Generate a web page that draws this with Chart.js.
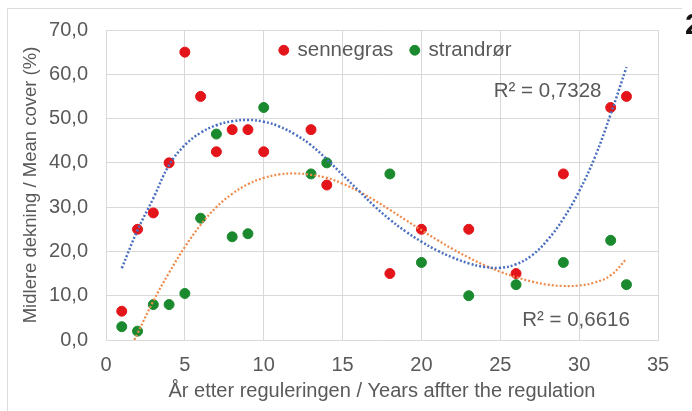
<!DOCTYPE html>
<html>
<head>
<meta charset="utf-8">
<script src="https://cdn.jsdelivr.net/npm/chart.js@4/dist/chart.umd.min.js"></script>
<style>
  html, body { margin: 0; padding: 0; background: #fff; }
  #wrap { width: 692px; height: 411px; }
</style>
</head>
<body>
<div id="wrap"><canvas id="chartDekning" width="692" height="411"></canvas></div>
<script>
// observed cover per year after regulation
const years = [1, 2, 3, 4, 5, 6, 7, 8, 9, 10, 13, 14, 18, 20, 23, 26, 29, 32, 33];
const sennegras = [6.5, 25, 28.7, 40, 65, 55, 42.5, 47.5, 47.5, 42.5, 47.5, 35, 15, 25, 25, 15, 37.5, 52.5, 55];
const strandror = [3, 2, 8, 8, 10.5, 27.5, 46.5, 23.3, 24, 52.5, 37.5, 40, 37.5, 17.5, 10, 12.5, 17.5, 22.5, 12.5];

// trendlines
const blueTrendX = [1, 2, 3, 4, 5, 6, 7, 8, 9, 10, 11, 12, 13, 14, 15, 16, 17, 18, 19, 20, 21, 22, 23, 24, 25, 26, 27, 28, 29, 30, 31, 32, 33];
const blueTrend = [16.2, 24.8, 32, 39.5, 44, 46.8, 48.5, 49.4, 49.7, 49.3, 48.2, 46.4, 44, 40.8, 37.3, 33.8, 30.3, 27.2, 24.5, 22.2, 20.2, 18.6, 17.3, 16.5, 16.3, 17.1, 19.1, 22.6, 27.4, 33.6, 41.3, 51, 61.6];
const orangeTrendX = [1.8, 2, 3, 4, 5, 6, 7, 8, 9, 10, 11, 12, 13, 14, 15, 16, 17, 18, 19, 20, 21, 22, 23, 24, 25, 26, 27, 28, 29, 30, 31, 32, 33];
const orangeTrend = [0, 1.5, 8.8, 15.2, 21, 26, 30, 33, 35.2, 36.6, 37.4, 37.6, 37.3, 36.6, 35.3, 33.6, 31.6, 29.4, 27.1, 24.8, 22.6, 20.5, 18.6, 16.9, 15.4, 14.2, 13.2, 12.5, 12.2, 12.3, 13, 14.6, 18.3];

const r2Labels = ["R\u00b2 = 0,7328", "R\u00b2 = 0,6616"];
const r2Pos = [[28, 56.2], [29.8, 4.5]];

const pts = (xs, ys) => xs.map((x, i) => ({ x: x, y: ys[i] }));
const grey = "#595959";

Chart.defaults.font.family = "'Liberation Sans', Arial, sans-serif";
Chart.defaults.font.size = 20;
Chart.defaults.color = grey;

// frame, R² texts, legend moved into the plot, and the cut "2" from the next figure
const extras = {
  id: "extras",
  afterLayout(chart) {
    const lg = chart.legend;
    const dy = 22 - lg.top;
    lg.top += dy;
    lg.bottom += dy;
    lg.left += 14;
    lg.right += 14;
  },
  beforeDraw(chart) {
    const ctx = chart.ctx;
    ctx.save();
    ctx.strokeStyle = "#dcdcdc";
    ctx.lineWidth = 1;
    ctx.beginPath();
    ctx.moveTo(7.5, 411);
    ctx.lineTo(7.5, 8.5);
    ctx.lineTo(682, 8.5);
    ctx.stroke();
    ctx.restore();
  },
  afterDraw(chart) {
    const ctx = chart.ctx;
    const xs = chart.scales.x, ys = chart.scales.y;
    ctx.save();
    ctx.fillStyle = grey;
    ctx.font = "20.5px 'Liberation Sans', Arial";
    ctx.textAlign = "center";
    ctx.textBaseline = "middle";
    r2Labels.forEach((t, i) => {
      ctx.fillText(t, xs.getPixelForValue(r2Pos[i][0]), ys.getPixelForValue(r2Pos[i][1]));
    });
    ctx.fillStyle = "#111";
    ctx.font = "bold 30px 'Liberation Sans', Arial";
    ctx.textAlign = "left";
    ctx.fillText("2", 685, 26);
    ctx.restore();
  }
};

const ctx = document.getElementById("chartDekning").getContext("2d");
const myChart = new Chart(ctx, {
  type: "scatter",
  data: {
    datasets: [
      {
        label: "sennegras",
        data: pts(years, sennegras),
        backgroundColor: "#e3151a",
        borderColor: "#e3151a",
        pointRadius: 5,
        order: 2,
      },
      {
        label: "strandrør",
        data: pts(years, strandror),
        backgroundColor: "#1b8a2f",
        borderColor: "#1b8a2f",
        pointRadius: 5,
        order: 2,
      },
      {
        type: "line",
        label: "trend sennegras",
        data: pts(blueTrendX, blueTrend),
        borderColor: "#4a6fc0",
        borderWidth: 2.5,
        borderDash: [2, 2],
        pointRadius: 0,
        tension: 0.4,
        fill: false,
        order: 1,
      },
      {
        type: "line",
        label: "trend strandrør",
        data: pts(orangeTrendX, orangeTrend),
        borderColor: "#ee8a4a",
        borderWidth: 2.2,
        borderDash: [2, 2],
        pointRadius: 0,
        tension: 0.4,
        fill: false,
        order: 1,
      },
    ],
  },
  options: {
    responsive: false,
    devicePixelRatio: 1,
    animation: false,
    layout: {
      padding: { left: 16, right: 34, top: -30, bottom: 4 },
    },
    plugins: {
      legend: {
        position: "top",
        fullSize: false,
        align: "center",
        labels: {
          usePointStyle: true,
          boxWidth: 7,
          boxHeight: 7,
          padding: 18,
          color: grey,
          font: { size: 20.5 },
          filter: (item) => item.datasetIndex < 2,
        },
      },
      tooltip: { enabled: false },
    },
    scales: {
      x: {
        type: "linear",
        min: 0,
        max: 35,
        afterFit: (scale) => { scale.height = 67; },
        ticks: { stepSize: 5, padding: 13, color: grey },
        grid: { color: "#d9d9d9", drawTicks: false },
        border: { color: "#d9d9d9" },
        title: {
          display: true,
          text: "År etter reguleringen / Years affter the regulation",
          color: grey,
          padding: { top: 2, bottom: 4 },
        },
      },
      y: {
        min: 0,
        max: 70,
        afterFit: (scale) => { scale.width = 90; },
        ticks: {
          stepSize: 10,
          padding: 18,
          color: grey,
          callback: (v) => v.toFixed(1).replace(".", ","),
        },
        grid: { color: "#d9d9d9", drawTicks: false },
        border: { color: "#d9d9d9" },
        title: {
          display: true,
          text: "Midlere dekning / Mean cover (%)",
          color: grey,
          font: { size: 18.5 },
          padding: { top: 4, bottom: 4 },
        },
      },
    },
  },
  plugins: [extras],
});
</script>
</body>
</html>
